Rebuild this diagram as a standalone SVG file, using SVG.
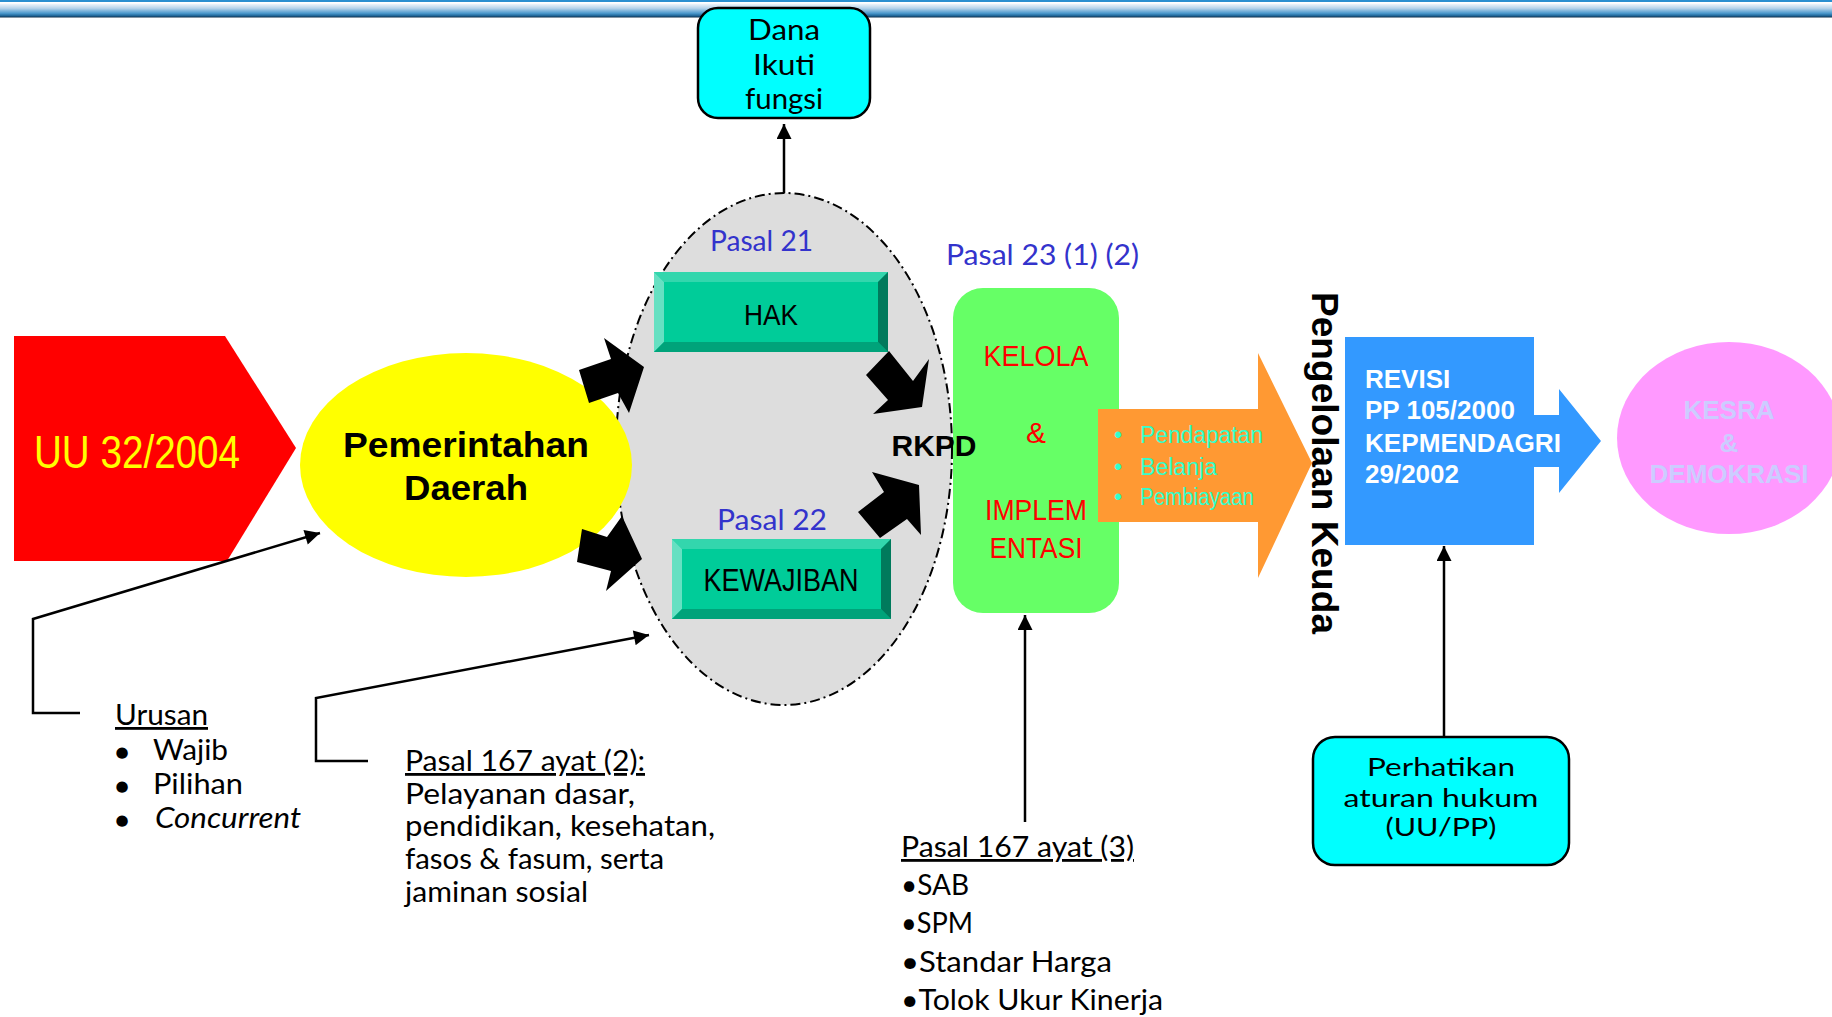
<svg xmlns="http://www.w3.org/2000/svg" width="1832" height="1017" viewBox="0 0 1832 1017">
<defs>
<linearGradient id="hdr" x1="0" y1="0" x2="0" y2="1">
<stop offset="0" stop-color="#F2F7FC"/>
<stop offset="0.35" stop-color="#B4D2EA"/>
<stop offset="0.7" stop-color="#4A98CC"/>
<stop offset="0.88" stop-color="#1E6496"/>
<stop offset="1" stop-color="#0C2C48"/>
</linearGradient>
<marker id="ah2" viewBox="0 0 10 10" refX="10" refY="5" markerWidth="8" markerHeight="6" orient="auto" markerUnits="strokeWidth">
<path d="M0,0 L10,5 L0,10 z" fill="#000"/>
</marker>
</defs>
<style>
.t{font-family:Lato,"Open Sans","DejaVu Sans",sans-serif;fill:#000}
.a{font-family:"Liberation Sans",Arial,sans-serif}
.blue{fill:#3333CC}
.red{fill:#FF0000}
.box{fill:#00FFFF;stroke:#000;stroke-width:2.5}
.ln{fill:none;stroke:#000;stroke-width:2.5}
.blk{fill:#000}
.bul{font-family:"Liberation Sans",Arial,sans-serif;fill:#33FFCC;font-size:23px}
.dot{font-family:"DejaVu Sans",sans-serif;font-size:15px;fill:#000}
</style>
<rect width="1832" height="1017" fill="#FFFFFF"/>
<rect x="0" y="0" width="1832" height="2" fill="#2A8FD0"/>
<rect x="0" y="3.5" width="1832" height="14" fill="url(#hdr)"/>

<g id="uu">
<polygon points="14,336 225,336 296,448 227,561 14,561" fill="#FF0000"/>
<text class="a" x="137" y="468" font-size="46" fill="#FFFF00" text-anchor="middle" textLength="206" lengthAdjust="spacingAndGlyphs">UU 32/2004</text>
</g>

<g id="pasal">
<ellipse cx="784" cy="449" rx="168" ry="256" fill="#DDDDDD" stroke="#000" stroke-width="2" stroke-dasharray="10,4,2,4"/>
<text class="t blue" x="710" y="251" font-size="29" textLength="103" lengthAdjust="spacingAndGlyphs">Pasal 21</text>
<text class="t blue" x="717" y="530" font-size="29" textLength="110" lengthAdjust="spacingAndGlyphs">Pasal 22</text>
</g>

<g id="pemda">
<ellipse cx="466" cy="465" rx="166" ry="112" fill="#FFFF00"/>
<text class="a" x="466" y="457" font-size="35" font-weight="bold" text-anchor="middle" textLength="246" lengthAdjust="spacingAndGlyphs">Pemerintahan</text>
<text class="a" x="466" y="500" font-size="35" font-weight="bold" text-anchor="middle" textLength="124" lengthAdjust="spacingAndGlyphs">Daerah</text>
</g>

<g id="hak">
<rect x="654" y="272" width="234" height="80" fill="#00CC99"/>
<polygon points="654,272 888,272 878,282 664,282" fill="#33D6AD"/>
<polygon points="654,272 664,282 664,342 654,352" fill="#66E0C2"/>
<polygon points="654,352 664,342 878,342 888,352" fill="#00A37A"/>
<polygon points="888,272 888,352 878,342 878,282" fill="#007A5C"/>
<text class="a" x="771" y="325" font-size="30" text-anchor="middle" textLength="54" lengthAdjust="spacingAndGlyphs">HAK</text>
</g>

<g id="kewajiban">
<rect x="672" y="539" width="219" height="80" fill="#00CC99"/>
<polygon points="672,539 891,539 881,549 682,549" fill="#33D6AD"/>
<polygon points="672,539 682,549 682,609 672,619" fill="#66E0C2"/>
<polygon points="672,619 682,609 881,609 891,619" fill="#00A37A"/>
<polygon points="891,539 891,619 881,609 881,549" fill="#007A5C"/>
<text class="a" x="781" y="591" font-size="31" text-anchor="middle" textLength="155" lengthAdjust="spacingAndGlyphs">KEWAJIBAN</text>
</g>

<g id="dana">
<rect x="698" y="8" width="172" height="110" rx="20" ry="20" class="box"/>
<text class="t" x="784" y="40" font-size="28" text-anchor="middle" textLength="72" lengthAdjust="spacingAndGlyphs">Dana</text>
<text class="t" x="784" y="75" font-size="28" text-anchor="middle" textLength="62" lengthAdjust="spacingAndGlyphs">Ikuti</text>
<text class="t" x="784" y="109" font-size="28" text-anchor="middle" textLength="78" lengthAdjust="spacingAndGlyphs">fungsi</text>
</g>

<g id="kelola">
<text class="t blue" x="946" y="265" font-size="28" textLength="193" lengthAdjust="spacingAndGlyphs">Pasal 23 (1) (2)</text>
<rect x="953" y="288" width="166" height="325" rx="30" ry="30" fill="#66FF66"/>
<text class="a red" x="1036" y="366" font-size="30" text-anchor="middle" textLength="105" lengthAdjust="spacingAndGlyphs">KELOLA</text>
<text class="a red" x="1036" y="443" font-size="30" text-anchor="middle">&amp;</text>
<text class="a red" x="1036" y="520" font-size="30" text-anchor="middle" textLength="102" lengthAdjust="spacingAndGlyphs">IMPLEM</text>
<text class="a red" x="1036" y="558" font-size="30" text-anchor="middle" textLength="93" lengthAdjust="spacingAndGlyphs">ENTASI</text>
</g>

<g id="rkpd">
<text class="a" x="934" y="456" font-size="30" font-weight="bold" text-anchor="middle">RKPD</text>
</g>

<g id="keuangan">
<polygon points="1098,409 1258,409 1258,353 1312,463 1258,578 1258,522 1098,522" fill="#FF9933"/>
<text class="bul" x="1114" y="443">•</text>
<text class="bul" x="1140" y="443" textLength="123" lengthAdjust="spacingAndGlyphs">Pendapatan</text>
<text class="bul" x="1114" y="475">•</text>
<text class="bul" x="1140" y="475" textLength="77" lengthAdjust="spacingAndGlyphs">Belanja</text>
<text class="bul" x="1114" y="505">•</text>
<text class="bul" x="1140" y="505" textLength="114" lengthAdjust="spacingAndGlyphs">Pembiayaan</text>
</g>

<g id="keuda">
<text class="a" transform="translate(1312,292) rotate(90)" x="0" y="0" font-size="37" font-weight="bold" textLength="342" lengthAdjust="spacingAndGlyphs">Pengelolaan Keuda</text>
</g>

<g id="revisi">
<polygon points="1345,337 1534,337 1534,415 1559,415 1559,389 1601,441 1559,493 1559,467 1534,467 1534,545 1345,545" fill="#3399FF"/>
<g class="a" font-size="26" font-weight="bold" fill="#FFFFFF">
<text x="1365" y="388">REVISI</text>
<text x="1365" y="419">PP 105/2000</text>
<text x="1365" y="452" textLength="196" lengthAdjust="spacingAndGlyphs">KEPMENDAGRI</text>
<text x="1365" y="483">29/2002</text>
</g>
</g>

<g id="kesra">
<ellipse cx="1729" cy="438" rx="112" ry="96" fill="#FF99FF"/>
<g class="a" font-size="26" font-weight="bold" fill="#CCCCFF" text-anchor="middle">
<text x="1729" y="419">KESRA</text>
<text x="1729" y="452">&amp;</text>
<text x="1729" y="483">DEMOKRASI</text>
</g>
</g>

<g id="perhatikan">
<rect x="1313" y="737" width="256" height="128" rx="22" ry="22" class="box" stroke-width="3"/>
<text class="t" x="1441" y="776" font-size="25" text-anchor="middle" textLength="148" lengthAdjust="spacingAndGlyphs">Perhatikan</text>
<text class="t" x="1441" y="807" font-size="25" text-anchor="middle" textLength="195" lengthAdjust="spacingAndGlyphs">aturan hukum</text>
<text class="t" x="1441" y="836" font-size="25" text-anchor="middle" textLength="111" lengthAdjust="spacingAndGlyphs">(UU/PP)</text>
</g>

<g id="urusan">
<text class="t" x="115" y="725" font-size="28" text-decoration="underline" textLength="93" lengthAdjust="spacingAndGlyphs">Urusan</text>
<text class="dot" x="122" y="757" text-anchor="middle">●</text>
<text class="t" x="153" y="760" font-size="28" textLength="75" lengthAdjust="spacingAndGlyphs">Wajib</text>
<text class="dot" x="122" y="791" text-anchor="middle">●</text>
<text class="t" x="153" y="794" font-size="28" textLength="90" lengthAdjust="spacingAndGlyphs">Pilihan</text>
<text class="dot" x="122" y="825" text-anchor="middle">●</text>
<text class="t" x="155" y="828" font-size="28" font-style="italic" textLength="146" lengthAdjust="spacingAndGlyphs">Concurrent</text>
</g>

<g id="pasal167-2">
<text class="t" x="405" y="771" font-size="28" text-decoration="underline" textLength="240" lengthAdjust="spacingAndGlyphs">Pasal 167 ayat (2):</text>
<text class="t" x="405" y="804" font-size="28" textLength="230" lengthAdjust="spacingAndGlyphs">Pelayanan dasar,</text>
<text class="t" x="405" y="836" font-size="28" textLength="310" lengthAdjust="spacingAndGlyphs">pendidikan, kesehatan,</text>
<text class="t" x="405" y="869" font-size="28" textLength="259" lengthAdjust="spacingAndGlyphs">fasos &amp; fasum, serta</text>
<text class="t" x="405" y="902" font-size="28" textLength="183" lengthAdjust="spacingAndGlyphs">jaminan sosial</text>
</g>

<g id="pasal167-3">
<text class="t" x="901" y="857" font-size="28" text-decoration="underline" textLength="233" lengthAdjust="spacingAndGlyphs">Pasal 167 ayat (3)</text>
<text class="t" x="901" y="895" font-size="28" textLength="68" lengthAdjust="spacingAndGlyphs">•SAB</text>
<text class="t" x="901" y="933" font-size="28" textLength="72" lengthAdjust="spacingAndGlyphs">•SPM</text>
<text class="t" x="901" y="972" font-size="28" textLength="211" lengthAdjust="spacingAndGlyphs">•Standar Harga</text>
<text class="t" x="901" y="1010" font-size="28" textLength="262" lengthAdjust="spacingAndGlyphs">•Tolok Ukur Kinerja</text>
</g>

<g id="connectors">
<polygon class="blk" points="579,370 611,359 604,338 644,367 629,413 618,393 589,403"/>
<polygon class="blk" points="582,529 607,537 622,516 642,559 606,591 611,571 577,562"/>
<polygon class="blk" points="889,351 913,381 929,359 922,407 873,414 888,400 866,375"/>
<polygon class="blk" points="858,512 884,492 872,472 919,485 921,535 907,519 880,538"/>
<line class="ln" x1="784" y1="193" x2="784" y2="124" marker-end="url(#ah2)"/>
<polyline class="ln" points="80,713 33,713 33,619 320,533" marker-end="url(#ah2)"/>
<polyline class="ln" points="368,761 316,761 316,698 649,635" marker-end="url(#ah2)"/>
<line class="ln" x1="1025" y1="822" x2="1025" y2="615" marker-end="url(#ah2)"/>
<line class="ln" x1="1444" y1="737" x2="1444" y2="546" marker-end="url(#ah2)"/>
</g>
</svg>
